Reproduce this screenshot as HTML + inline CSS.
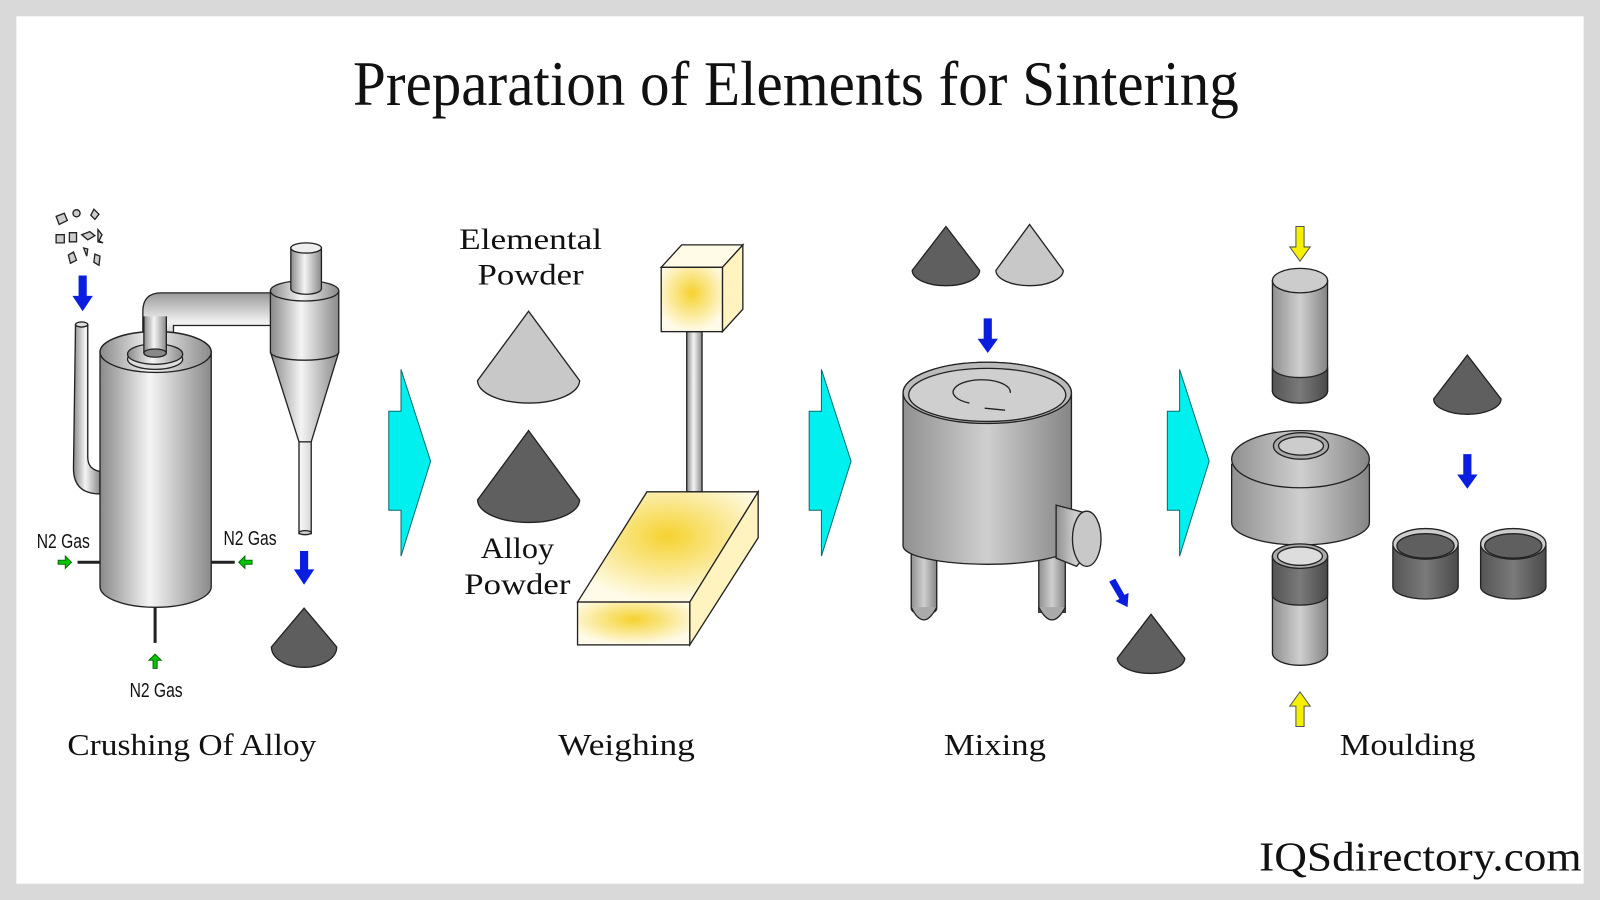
<!DOCTYPE html>
<html><head><meta charset="utf-8"><style>html,body{margin:0;padding:0;background:#d9d9d9}svg{display:block}</style></head><body>
<svg width="1600" height="900" viewBox="0 0 1568 882" xmlns="http://www.w3.org/2000/svg">
<defs>
<linearGradient id="cyl" x1="0" x2="1" y1="0" y2="0"><stop offset="0" stop-color="#8a8a8a"/><stop offset="0.45" stop-color="#f4f4f4"/><stop offset="1" stop-color="#8a8a8a"/></linearGradient>
<linearGradient id="cylg" x1="0" x2="1"><stop offset="0" stop-color="#909090"/><stop offset="0.5" stop-color="#cfcfcf"/><stop offset="1" stop-color="#858585"/></linearGradient>
<linearGradient id="cyld" x1="0" x2="1"><stop offset="0" stop-color="#555"/><stop offset="0.5" stop-color="#7a7a7a"/><stop offset="1" stop-color="#4a4a4a"/></linearGradient>
<linearGradient id="pipeh" x1="0" x2="0" y1="0" y2="1"><stop offset="0" stop-color="#999"/><stop offset="0.5" stop-color="#f2f2f2"/><stop offset="1" stop-color="#999"/></linearGradient>
<radialGradient id="yel" cx="0.5" cy="0.4" r="0.6"><stop offset="0" stop-color="#f5d22e"/><stop offset="1" stop-color="#fffbe8"/></radialGradient>
</defs>
<rect x="16" y="16" width="1536" height="850" fill="#fff"/>
<text x="780" y="103" text-anchor="middle" font-family="Liberation Serif, serif" font-size="62" textLength="868" lengthAdjust="spacingAndGlyphs" fill="#111">Preparation of Elements for Sintering</text>

<!-- Crushing -->
<g stroke="#222" stroke-width="1.3">
<g fill="#ccc"><path d="M55 212l8-3 3 7-8 4z"/><circle cx="75" cy="209" r="3.5"/><path d="M92 205l5 5-4 5-4-4z"/><path d="M55 230h8v8h-8z"/><path d="M68 228h7v9h-7z"/><path d="M80 230l8-3 5 4-7 4z"/><path d="M96 225l4 5-3 6 4 2-5-1z"/><path d="M67 250l5-3 3 8-6 3z"/><path d="M82 243l4 1-1 7z"/><path d="M93 249l5 2-1 9-5-3z"/></g>
<path d="M74 318h12v130q0 12 12 14v22q-26 0-26-25z" fill="url(#cyl)"/>
<ellipse cx="80" cy="318" rx="6" ry="2.5" fill="#ddd"/>
<path d="M140 345v-40q0-18 18-18h110v32h-98v26z" fill="url(#pipeh)"/>
<path d="M98 345a54 20 0 0 1 109 0v230a54 20 0 0 1 -109 0z" fill="url(#cyl)"/>
<ellipse cx="152.5" cy="345" rx="54.5" ry="20" fill="url(#cyl)"/>
<ellipse cx="152" cy="352" rx="27" ry="10" fill="#ddd"/><ellipse cx="152" cy="347" rx="27" ry="10" fill="url(#cyl)"/>
<rect x="141" y="310" width="22" height="36" fill="url(#cyl)" stroke="none"/><path d="M141 310v36M163 310v36"/><ellipse cx="152" cy="346" rx="11" ry="4" fill="#888"/>
<path d="M265 285v60l28 88v90h12v-90l27-88v-60z" fill="url(#cyl)"/>
<path d="M265 345a33.5 8 0 0 0 67 0" fill="none"/>
<ellipse cx="298.5" cy="285" rx="33.5" ry="10" fill="url(#cyl)"/>
<path d="M285 243v40a14 5 0 0 0 30 0v-40z" fill="url(#cyl)"/><ellipse cx="300" cy="243" rx="15" ry="5" fill="#eee"/>
<path d="M293 433h12" /><ellipse cx="299" cy="522" rx="6" ry="2" fill="#ccc"/>
<path d="M76 551h22M207 551h23M152 595v35" stroke-width="3"/>
<path d="M298 596l32 38a32 20 0 0 1 -64 0z" fill="#5e5e5e"/>
</g>
<g fill="#00c800" stroke="#0a6a0a" stroke-width="1"><path d="M57 549h7v-4l6 6-6 6v-4h-7z"/><path d="M247 549h-7v-4l-6 6 6 6v-4h7z"/><path d="M150 655v-8h-4l6-6 6 6h-4v8z"/></g>
<g fill="#0a1ee0"><path d="M77 270h8v20h6l-10 15-10-15h6z"/><path d="M294 540h8v18h6l-10 15-10-15h6z"/></g>
<g font-family="Liberation Sans Narrow, Liberation Sans, sans-serif" font-size="20" fill="#111">
<text x="36" y="537" textLength="52" lengthAdjust="spacingAndGlyphs">N2 Gas</text>
<text x="219" y="534" textLength="52" lengthAdjust="spacingAndGlyphs">N2 Gas</text>
<text x="127" y="683" textLength="52" lengthAdjust="spacingAndGlyphs">N2 Gas</text></g>

<!-- cyan arrows -->
<g fill="#00f0f0" stroke="#0a6a6a" stroke-width="1">
<path d="M393 362l29 90-29 93v-45h-12v-97h12z"/>
<path d="M805 362l29 90-29 93v-45h-12v-97h12z"/>
<path d="M1156 362l29 90-29 93v-45h-12v-97h12z"/></g>

<!-- Weighing -->
<g font-family="Liberation Serif, serif" font-size="29" fill="#111">
<text x="450" y="244" textLength="140" lengthAdjust="spacingAndGlyphs">Elemental</text><text x="468" y="279" textLength="104" lengthAdjust="spacingAndGlyphs">Powder</text>
<text x="471" y="547" textLength="72" lengthAdjust="spacingAndGlyphs">Alloy</text><text x="455" y="582" textLength="104" lengthAdjust="spacingAndGlyphs">Powder</text></g>
<g stroke="#222" stroke-width="1.3">
<path d="M518 305l50 68a50 22 0 0 1 -100 0z" fill="#c8c8c8"/>
<path d="M518 422l50 68a50 22 0 0 1 -100 0z" fill="#5f5f5f"/>
<rect x="673" y="325" width="15" height="157" fill="url(#cyl)"/>
<path d="M648 262l20-22h60l-20 22z" fill="#fffbe6"/><path d="M708 262l20-22v63l-20 22z" fill="#fff4c0"/>
<rect x="648" y="262" width="60" height="63" fill="url(#yel)"/>
<path d="M634 482h109l-67 108h-110z" fill="url(#yel)"/>
<path d="M676 590l67-108v45l-67 105z" fill="#fff4c0"/>
<rect x="566" y="590" width="110" height="42" fill="url(#yel)"/>
</g>

<!-- Mixing -->
<g stroke="#222" stroke-width="1.3">
<path d="M927 222l33 43a33 15 0 0 1 -66 0z" fill="#5f5f5f"/>
<path d="M1009 220l33 45a33 15 0 0 1 -66 0z" fill="#c8c8c8"/>
<rect x="893" y="520" width="25" height="80" rx="4" fill="url(#cylg)"/><path d="M893 595q12 25 25 0" fill="#aaa"/>
<rect x="1018" y="520" width="26" height="80" fill="url(#cylg)"/><path d="M1018 595q13 25 26 0" fill="#aaa"/>
<path d="M885 385a82.5 30 0 0 1 165 0v150a82.5 18 0 0 1 -165 0z" fill="url(#cylg)"/>
<ellipse cx="967.5" cy="385" rx="82.5" ry="30" fill="#bbb"/><ellipse cx="967.5" cy="387" rx="77" ry="26" fill="#cfcfcf"/>
<path d="M950 395a28 12 0 1 1 40 -10" fill="none"/><path d="M985 402l-20 -2" fill="none"/>
<path d="M1035 495l30 8q20 20 -10 52l-20 -8z" fill="url(#cylg)"/><ellipse cx="1065" cy="528" rx="14" ry="27" fill="#c8c8c8"/>
<path d="M1128 602l33 43a33 15 0 0 1 -66 0z" fill="#5f5f5f"/>
</g>
<g fill="#0a1ee0"><path d="M964 312h8v20h6l-10 14-10-14h6z"/><path d="M1087 570l6-3 9 16 4-2-1 14-12-6 4-2z"/></g>

<!-- Moulding -->
<g stroke="#222" stroke-width="1.3">
<path d="M1247 275v108a27 12 0 0 0 54 0v-108z" fill="url(#cylg)"/>
<path d="M1247 360v23a27 12 0 0 0 54 0v-23a27 10 0 0 1 -54 0z" fill="url(#cyld)"/>
<ellipse cx="1274" cy="275" rx="27" ry="12" fill="#ccc"/>
<path d="M1207 455v57a67.5 22 0 0 0 135 0v-57z" fill="url(#cylg)"/>
<ellipse cx="1274.5" cy="450" rx="67.5" ry="28" fill="url(#cylg)"/>
<ellipse cx="1275" cy="437" rx="27" ry="13" fill="#aaa"/><ellipse cx="1275" cy="437" rx="22" ry="9" fill="#ccc"/>
<path d="M1247 545v95a27 12 0 0 0 54 0v-95z" fill="url(#cylg)"/>
<path d="M1247 545v38a27 10 0 0 0 54 0v-38z" fill="url(#cyld)"/>
<ellipse cx="1274" cy="545" rx="27" ry="12" fill="#aaa"/><ellipse cx="1274" cy="545" rx="22" ry="9" fill="#ddd"/>
<path d="M1438 348l33 43a33 15 0 0 1 -66 0z" fill="#5f5f5f"/>
<path d="M1365 535v40a32 12 0 0 0 64 0v-40z" fill="url(#cyld)"/><ellipse cx="1397" cy="533" rx="32" ry="15" fill="#ccc"/><ellipse cx="1397" cy="535" rx="28" ry="12" fill="#5f5f5f"/>
<path d="M1451 535v40a32 12 0 0 0 64 0v-40z" fill="url(#cyld)"/><ellipse cx="1483" cy="533" rx="32" ry="15" fill="#ccc"/><ellipse cx="1483" cy="535" rx="28" ry="12" fill="#5f5f5f"/>
</g>
<g fill="#f5f000" stroke="#555" stroke-width="1"><path d="M1270 222h8v20h6l-10 14-10-14h6z"/><path d="M1270 712h8v-20h6l-10-14-10 14h6z"/></g>
<path d="M1434 445h8v20h6l-10 14-10-14h6z" fill="#0a1ee0"/>

<g font-family="Liberation Serif, serif" font-size="30" fill="#111">
<text x="66" y="740" textLength="244" lengthAdjust="spacingAndGlyphs">Crushing Of Alloy</text>
<text x="547" y="740" textLength="134" lengthAdjust="spacingAndGlyphs">Weighing</text>
<text x="925" y="740" textLength="100" lengthAdjust="spacingAndGlyphs">Mixing</text>
<text x="1313" y="740" textLength="133" lengthAdjust="spacingAndGlyphs">Moulding</text></g>
<text x="1550" y="853" text-anchor="end" font-family="Liberation Serif, serif" font-size="40" fill="#111" textLength="316" lengthAdjust="spacingAndGlyphs">IQSdirectory.com</text>
</svg>
</body></html>
